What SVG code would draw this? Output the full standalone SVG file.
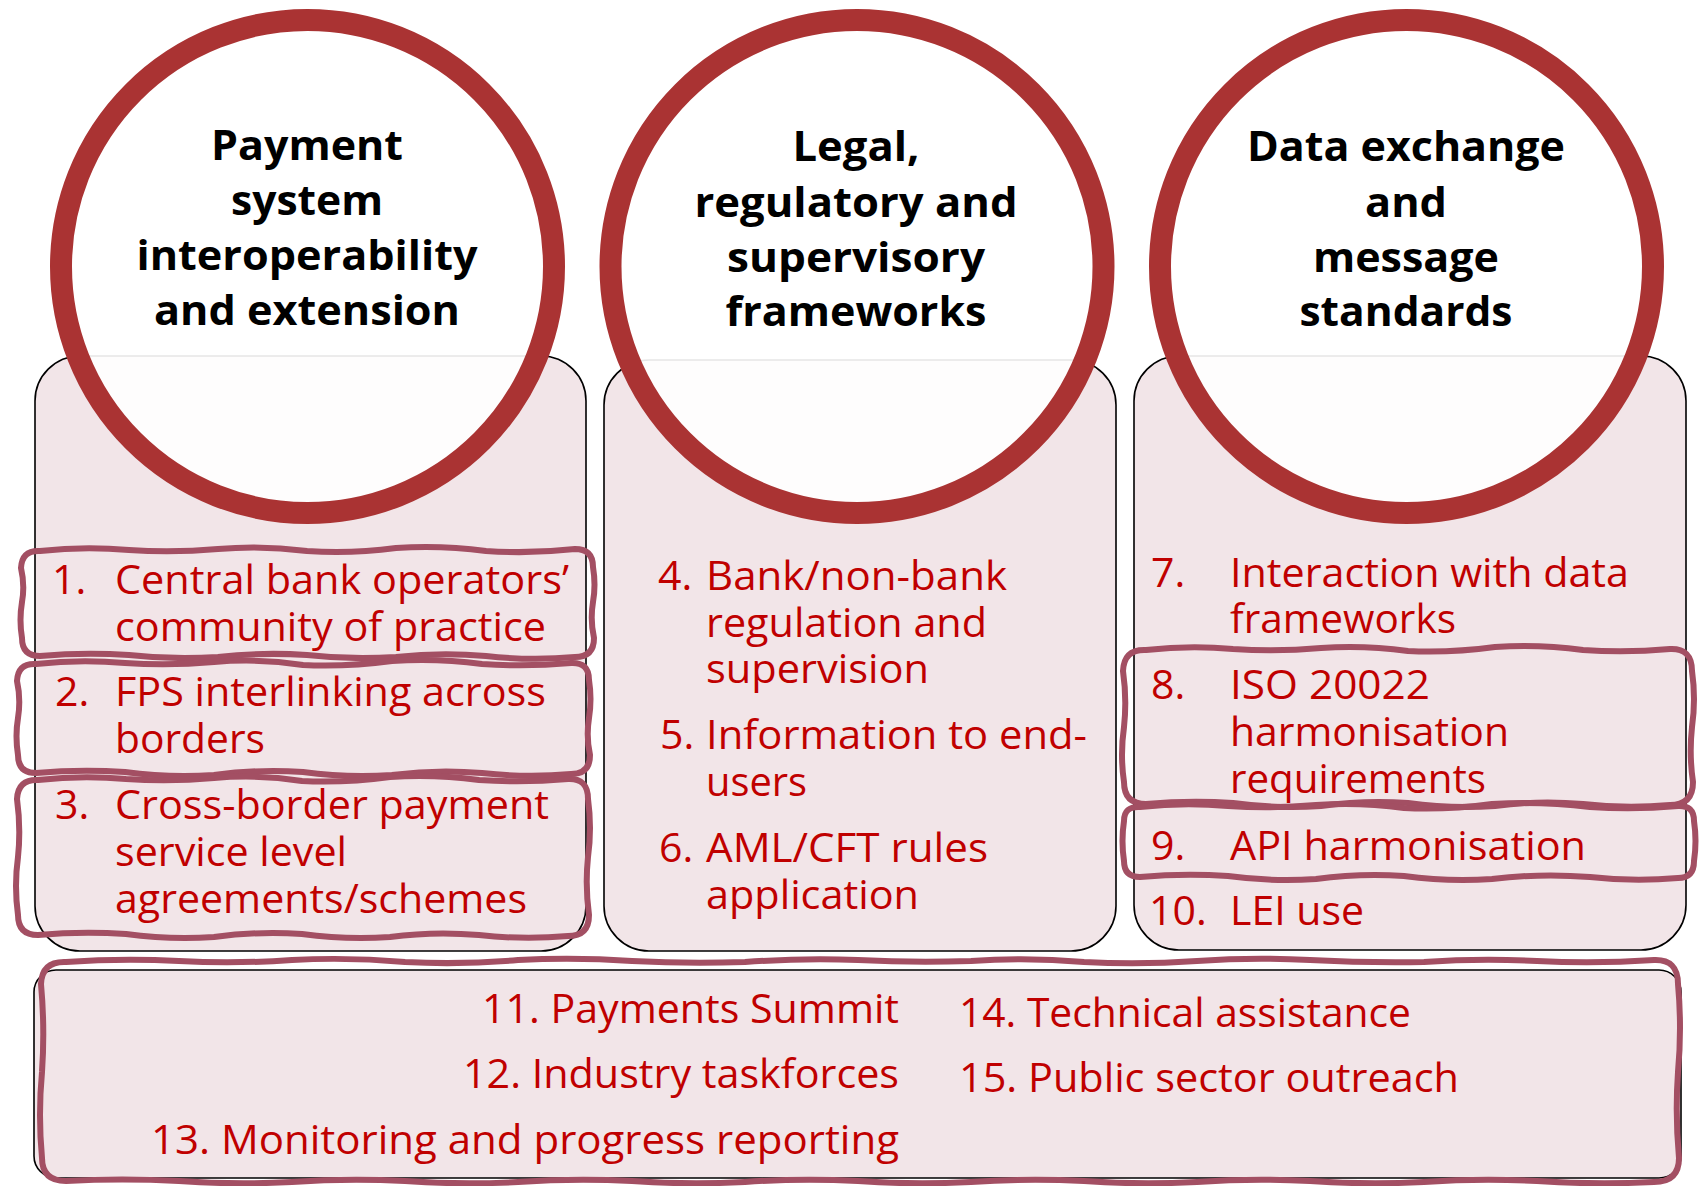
<svg xmlns="http://www.w3.org/2000/svg" width="1701" height="1186" viewBox="0 0 1701 1186">
<style>
.box{fill:#f2e5e8;stroke:#000;stroke-width:1.6}
.ring{fill:#fff;fill-opacity:0.9;stroke:#aa3333;stroke-width:22}
.hd{font-family:"Open Sans","Noto Sans","DejaVu Sans",sans-serif;font-weight:700;font-size:42px;fill:#000;text-anchor:middle}
.it{font-family:"Open Sans","Noto Sans","DejaVu Sans",sans-serif;font-size:41px;fill:#c00000}
.wob{fill:none;stroke:#a34f63;stroke-width:6;stroke-linejoin:round;stroke-linecap:round}
</style>
<rect width="1701" height="1186" fill="#fff"/>

<g id="boxes">
  <rect id="box1" class="box" x="35" y="356" width="551" height="595" rx="45"/>
  <rect id="box2" class="box" x="604" y="360" width="512" height="591" rx="45"/>
  <rect id="box3" class="box" x="1134" y="356" width="552" height="594" rx="45"/>
  <rect id="box-bottom" class="box" x="34" y="970" width="1647" height="208" rx="22"/>
</g>

<g id="pillar1">
  <circle class="ring" cx="307.5" cy="266.5" r="246.5"/>
  <text class="hd" x="307" y="160" textLength="192" lengthAdjust="spacingAndGlyphs">Payment</text>
  <text class="hd" x="307" y="215" textLength="152" lengthAdjust="spacingAndGlyphs">system</text>
  <text class="hd" x="307" y="270" textLength="341" lengthAdjust="spacingAndGlyphs">interoperability</text>
  <text class="hd" x="307" y="325" textLength="306" lengthAdjust="spacingAndGlyphs">and extension</text>
</g>
<g id="pillar2">
  <circle class="ring" cx="857" cy="266.5" r="246.5"/>
  <text class="hd" x="856" y="161" textLength="127" lengthAdjust="spacingAndGlyphs">Legal,</text>
  <text class="hd" x="856" y="216.5" textLength="323" lengthAdjust="spacingAndGlyphs">regulatory and</text>
  <text class="hd" x="856" y="271.5" textLength="258" lengthAdjust="spacingAndGlyphs">supervisory</text>
  <text class="hd" x="856" y="326" textLength="261" lengthAdjust="spacingAndGlyphs">frameworks</text>
</g>
<g id="pillar3">
  <circle class="ring" cx="1406.5" cy="266.5" r="246.5"/>
  <text class="hd" x="1406" y="161" textLength="318" lengthAdjust="spacingAndGlyphs">Data exchange</text>
  <text class="hd" x="1406" y="216.5" textLength="82" lengthAdjust="spacingAndGlyphs">and</text>
  <text class="hd" x="1406" y="271.5" textLength="186" lengthAdjust="spacingAndGlyphs">message</text>
  <text class="hd" x="1406" y="326" textLength="213" lengthAdjust="spacingAndGlyphs">standards</text>
</g>

<g id="items-col1">
  <text class="it" x="52" y="594">1.</text>
  <text class="it" x="115" y="594" textLength="454" lengthAdjust="spacingAndGlyphs">Central bank operators’</text>
  <text class="it" x="115" y="641" textLength="431" lengthAdjust="spacingAndGlyphs">community of practice</text>
  <text class="it" x="55" y="706">2.</text>
  <text class="it" x="115" y="706" textLength="431" lengthAdjust="spacingAndGlyphs">FPS interlinking across</text>
  <text class="it" x="115" y="753" textLength="150" lengthAdjust="spacingAndGlyphs">borders</text>
  <text class="it" x="55" y="819">3.</text>
  <text class="it" x="115" y="819" textLength="434" lengthAdjust="spacingAndGlyphs">Cross-border payment</text>
  <text class="it" x="115" y="866" textLength="232" lengthAdjust="spacingAndGlyphs">service level</text>
  <text class="it" x="115" y="913" textLength="412" lengthAdjust="spacingAndGlyphs">agreements/schemes</text>
</g>
<g id="items-col2">
  <text class="it" x="658" y="590">4.</text>
  <text class="it" x="706" y="590" textLength="301" lengthAdjust="spacingAndGlyphs">Bank/non-bank</text>
  <text class="it" x="706" y="637" textLength="281" lengthAdjust="spacingAndGlyphs">regulation and</text>
  <text class="it" x="706" y="683" textLength="223" lengthAdjust="spacingAndGlyphs">supervision</text>
  <text class="it" x="660" y="749">5.</text>
  <text class="it" x="706" y="749" textLength="381" lengthAdjust="spacingAndGlyphs">Information to end-</text>
  <text class="it" x="706" y="796" textLength="101" lengthAdjust="spacingAndGlyphs">users</text>
  <text class="it" x="659" y="862">6.</text>
  <text class="it" x="706" y="862" textLength="282" lengthAdjust="spacingAndGlyphs">AML/CFT rules</text>
  <text class="it" x="706" y="909" textLength="213" lengthAdjust="spacingAndGlyphs">application</text>
</g>
<g id="items-col3">
  <text class="it" x="1151" y="587">7.</text>
  <text class="it" x="1230" y="587" textLength="399" lengthAdjust="spacingAndGlyphs">Interaction with data</text>
  <text class="it" x="1230" y="633" textLength="226" lengthAdjust="spacingAndGlyphs">frameworks</text>
  <text class="it" x="1151" y="699">8.</text>
  <text class="it" x="1230" y="699" textLength="200" lengthAdjust="spacingAndGlyphs">ISO 20022</text>
  <text class="it" x="1230" y="746" textLength="279" lengthAdjust="spacingAndGlyphs">harmonisation</text>
  <text class="it" x="1230" y="793" textLength="256" lengthAdjust="spacingAndGlyphs">requirements</text>
  <text class="it" x="1151" y="860">9.</text>
  <text class="it" x="1230" y="860" textLength="356" lengthAdjust="spacingAndGlyphs">API harmonisation</text>
  <text class="it" x="1149" y="925">10.</text>
  <text class="it" x="1230" y="925" textLength="134" lengthAdjust="spacingAndGlyphs">LEI use</text>
</g>
<g id="items-bottom">
  <text class="it" x="482" y="1023" textLength="417" lengthAdjust="spacingAndGlyphs">11. Payments Summit</text>
  <text class="it" x="463" y="1088" textLength="436" lengthAdjust="spacingAndGlyphs">12. Industry taskforces</text>
  <text class="it" x="151" y="1154" textLength="748" lengthAdjust="spacingAndGlyphs">13. Monitoring and progress reporting</text>
  <text class="it" x="959" y="1027" textLength="452" lengthAdjust="spacingAndGlyphs">14. Technical assistance</text>
  <text class="it" x="959" y="1092" textLength="500" lengthAdjust="spacingAndGlyphs">15. Public sector outreach</text>
</g>

<g id="highlights">
  <path id="hl1" class="wob" d="M40,551 Q84,546 129,550 Q173,553 218,549 Q262,545 307,551 Q351,554 396,548 Q441,545 486,551 Q530,554 575,549 Q593,549 593,567 Q596,585 593,602 Q590,620 594,638 Q594,657 575,657 Q531,661 486,656 Q441,652 396,657 Q351,660 307,655 Q262,652 218,657 Q173,660 129,655 Q84,652 40,656 Q22,656 22,638 Q19,620 22,602 Q25,585 21,568 Q22,550 40,551 Z"/>
  <path id="hl2" class="wob" d="M36,664 Q80,659 125,663 Q169,666 214,662 Q258,658 303,665 Q347,667 392,661 Q437,658 482,664 Q526,667 571,663 Q589,662 589,680 Q592,699 589,718 Q586,737 590,755 Q590,774 571,774 Q527,778 482,773 Q437,769 392,775 Q347,778 303,772 Q258,769 214,775 Q169,778 125,772 Q80,769 36,773 Q18,773 18,755 Q15,736 18,718 Q21,699 17,681 Q18,663 36,664 Z"/>
  <path id="hl3" class="wob" d="M38,780 Q82,775 126,779 Q170,782 214,778 Q258,774 302,781 Q346,783 390,777 Q434,774 479,780 Q523,783 568,779 Q588,778 588,799 Q592,828 588,857 Q585,886 589,915 Q589,936 568,936 Q524,940 479,935 Q434,931 390,937 Q346,940 302,934 Q258,931 214,937 Q170,940 126,934 Q82,931 38,935 Q18,935 18,915 Q14,886 18,857 Q21,828 17,799 Q18,779 38,780 Z"/>
  <path id="hl8" class="wob" d="M1146,650 Q1190,645 1233,649 Q1277,652 1321,648 Q1364,645 1408,651 Q1451,653 1495,647 Q1539,644 1583,650 Q1626,653 1670,649 Q1692,648 1692,671 Q1696,699 1692,727 Q1689,755 1693,782 Q1693,805 1670,805 Q1626,809 1583,804 Q1539,800 1495,806 Q1451,809 1408,803 Q1364,800 1321,806 Q1277,809 1233,803 Q1190,800 1146,804 Q1124,804 1124,782 Q1120,755 1124,727 Q1127,699 1123,671 Q1124,649 1146,650 Z"/>
  <path id="hl9" class="wob" d="M1140,807 Q1184,802 1228,806 Q1272,809 1316,805 Q1360,802 1404,808 Q1448,810 1492,804 Q1541,801 1590,807 Q1634,810 1678,806 Q1694,805 1694,821 Q1697,841 1694,861 Q1694,878 1678,878 Q1634,882 1590,877 Q1541,873 1492,879 Q1448,882 1404,876 Q1360,873 1316,879 Q1272,882 1228,876 Q1184,873 1140,877 Q1124,877 1124,861 Q1121,841 1124,821 Q1124,806 1140,807 Z"/>
  <path id="hl-bottom" class="wob" d="M66,962 Q122,958 179,961 Q235,964 292,960 Q348,957 405,962 Q461,965 518,960 Q575,957 632,961 Q688,964 745,962 Q801,958 858,960 Q914,963 971,961 Q1027,957 1084,962 Q1140,965 1197,961 Q1253,957 1310,960 Q1367,963 1424,962 Q1480,958 1537,961 Q1595,964 1654,960 Q1678,959 1678,984 Q1682,1028 1678,1072 Q1675,1115 1679,1158 Q1679,1182 1654,1182 Q1596,1185 1537,1181 Q1480,1178 1424,1182 Q1367,1185 1310,1181 Q1253,1178 1197,1182 Q1140,1185 1084,1181 Q1027,1178 971,1182 Q914,1185 858,1181 Q801,1178 745,1182 Q688,1185 632,1181 Q575,1178 518,1182 Q461,1185 405,1181 Q348,1178 292,1182 Q235,1185 179,1181 Q122,1178 66,1181 Q42,1181 42,1158 Q38,1115 42,1072 Q45,1028 41,984 Q42,961 66,962 Z"/>
</g>
<g id="connectors"/>
</svg>
